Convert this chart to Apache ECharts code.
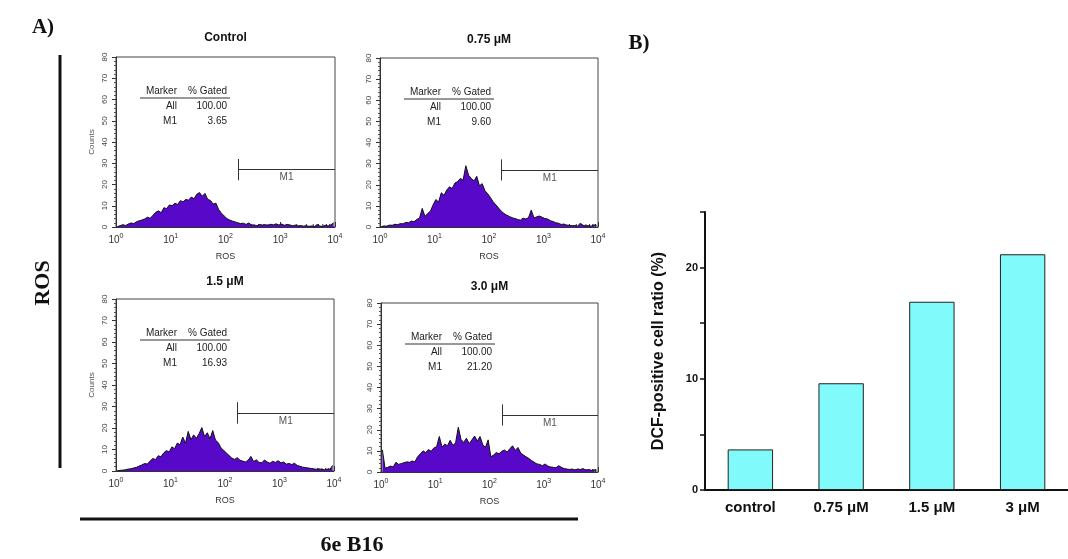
<!DOCTYPE html>
<html>
<head>
<meta charset="UTF-8">
<script src="https://cdn.jsdelivr.net/npm/echarts@6/dist/echarts.min.js"></script>
<style>
  html, body { margin: 0; padding: 0; background: #fff; }
  #main { width: 1068px; height: 559px; }
</style>
<title>6e B16 ROS</title>
</head>
<body>
<div id="main"></div>
<script type="text/javascript">
// ---- data ----
var binsPerDecade = 20;   // 80 bins over 10^0..10^4

var countsControl = [
  0.2, 0.6, 1.1, 0.7, 1.4, 1.9, 1.6, 2.5, 2.9, 3.3,
  3.8, 4.6, 4.1, 5.5, 6.9, 7.6, 6.7, 9.1, 8.6, 10.4,
  10.0, 11.2, 10.6, 12.4, 11.8, 13.0, 12.6, 14.1, 13.3, 15.4,
  16.2, 14.5, 15.8, 13.0, 12.5, 10.8, 11.2, 8.2, 6.5, 5.2,
  4.0, 3.3, 2.8, 2.4, 2.0, 1.6, 1.8, 1.2, 1.9, 0.9,
  1.0, 0.6, 1.2, 0.9, 1.1, 0.8, 1.3, 1.0, 1.5, 0.9,
  1.4, 0.8, 1.2, 1.0, 0.6, 0.9, 0.5, 0.7, 0.4, 0.6,
  0.3, 0.5, 0.2, 1.2, 0.4, 0.3, 0.8, 0.5, 1.0, 2.0
];
var counts075 = [
  0.2, 0.5, 0.4, 0.9, 0.8, 1.3, 1.1, 1.6, 1.5, 2.2,
  2.0, 2.8, 2.5, 3.6, 4.2, 8.8, 5.0, 6.4, 7.5, 10.5,
  13.0, 11.8, 16.2, 15.0, 17.5, 19.0, 18.2, 20.8, 21.5, 23.0,
  22.2, 29.0, 24.5, 23.0, 21.8, 24.0, 19.5, 20.5, 17.2, 15.8,
  14.0, 12.0, 10.5, 9.0, 7.5, 6.4, 5.6, 5.0, 4.4, 4.0,
  3.6, 3.2, 4.2, 3.8, 4.4, 8.0, 4.3, 4.8, 5.2, 4.6,
  4.0, 3.8, 3.0, 2.6, 2.0, 1.8, 1.2, 1.4, 0.9, 0.8,
  0.6, 0.7, 0.4, 1.8, 0.8, 0.5, 0.7, 0.4, 1.0, 0.8
];
var counts15 = [
  0.1, 0.3, 0.4, 0.6, 0.9, 1.0, 1.4, 1.7, 2.3, 2.8,
  3.5, 3.2, 4.6, 5.8, 5.3, 7.1, 6.6, 8.4, 9.5, 8.8,
  11.2, 10.4, 13.0, 12.2, 15.8, 12.9, 18.4, 14.5, 16.8, 15.2,
  17.4, 20.2, 16.0, 17.8, 15.0, 18.8, 14.4, 13.2, 10.8, 9.6,
  8.4, 7.2, 6.0, 5.4, 6.2, 5.0, 4.6, 4.2, 5.0, 6.8,
  4.4, 5.2, 4.0, 3.8, 5.1, 4.2, 3.6, 4.5, 4.0, 4.8,
  3.8, 4.2, 3.2, 3.5, 3.0, 3.6, 2.6, 2.2, 1.8, 1.6,
  1.4, 1.2, 1.0, 0.8, 1.0, 0.7, 0.6, 0.9, 0.8, 2.6
];
var counts30 = [
  10.5, 1.8, 2.2, 2.8, 2.4, 4.6, 3.6, 4.0, 4.4, 4.8,
  4.6, 5.2, 4.8, 7.2, 8.6, 10.0, 9.2, 10.6, 9.8, 11.4,
  12.0, 16.8, 11.8, 13.2, 12.4, 15.0, 12.6, 13.8, 21.2, 15.4,
  14.0, 16.0, 13.4, 15.2, 17.0, 14.6, 16.8, 13.0, 11.6, 15.2,
  7.2, 8.0, 9.2, 8.6, 9.8, 10.4, 9.4, 11.0, 12.4, 10.2,
  11.6, 9.0, 8.0, 7.2, 6.4, 5.4, 4.6, 3.8, 3.6, 3.0,
  3.8, 2.8, 2.4, 2.2, 2.0, 3.0, 2.2, 1.6, 1.4, 1.2,
  1.4, 1.0, 1.4, 1.2, 1.6, 0.9, 1.2, 0.8, 1.0, 0.9
];

var histCounts = [countsControl, counts075, counts15, counts30];
var histTitles = ['Control', '0.75 \u03bcM', '1.5 \u03bcM', '3.0 \u03bcM'];
var gatedAll = ['100.00', '100.00', '100.00', '100.00'];
var gatedM1 = ['3.65', '9.60', '16.93', '21.20'];
var m1Start = 2.23;       // log10 of the M1 gate channel
var m1Level = 27;

var barCategories = ['control', '0.75 \u03bcM', '1.5 \u03bcM', '3 \u03bcM'];
var barValues = [3.65, 9.6, 16.93, 21.2];

// log minor tick positions for the ROS axes (2..9 in each decade)
var logMinorTicks = [];
for (var n = 0; n < 4; n++) {
    for (var k = 2; k <= 9; k++) {
        logMinorTicks.push([n + Math.log10(k)]);
    }
}

// ---- layout ----
var histGrids = [
    {left: 116, top: 57, width: 219, height: 170},
    {left: 380, top: 58, width: 218, height: 169},
    {left: 116, top: 299, width: 218, height: 172},
    {left: 381, top: 303, width: 217, height: 169}
];
var titleY = [38, 40, 282, 287];

var sans = 'Liberation Sans';
var serif = 'Liberation Serif';

var dom = document.getElementById('main');
var myChart = echarts.init(dom);

var grids = [], xAxes = [], yAxes = [], series = [], graphics = [];

histCounts.forEach(function (counts, i) {
    var g = histGrids[i];
    grids.push({
        left: g.left, top: g.top, width: g.width, height: g.height,
        show: true, borderColor: '#444', borderWidth: 1
    });
    xAxes.push({
        gridIndex: i, type: 'value', min: 0, max: 4, interval: 1,
        name: 'ROS', nameLocation: 'middle', nameGap: 25,
        nameTextStyle: {fontFamily: sans, fontSize: 9, color: '#333'},
        axisLine: {lineStyle: {color: '#333', width: 1}},
        axisTick: {inside: true, length: 5, lineStyle: {color: '#333'}},
        splitLine: {show: false},
        axisLabel: {
            margin: 6, color: '#333',
            formatter: function (v) { return '{b|10}{s|' + v + '}'; },
            rich: {
                b: {fontFamily: sans, fontSize: 10, color: '#333'},
                s: {fontFamily: sans, fontSize: 7, color: '#333', padding: [0, 0, 7, 0]}
            }
        }
    });
    yAxes.push({
        gridIndex: i, type: 'value', min: 0, max: 80, interval: 10,
        name: i % 2 === 0 ? 'Counts' : '', nameLocation: 'middle', nameGap: 20, nameRotate: 90,
        nameTextStyle: {fontFamily: sans, fontSize: 8, color: '#555'},
        axisLine: {show: true, lineStyle: {color: '#333', width: 1}},
        axisTick: {show: true, length: 4, lineStyle: {color: '#333'}},
        minorTick: {show: true, splitNumber: 5, length: 2, lineStyle: {color: '#555'}},
        splitLine: {show: false},
        axisLabel: {rotate: 90, fontFamily: sans, fontSize: 8, margin: 7, color: '#444'}
    });
    series.push({
        type: 'line', xAxisIndex: i, yAxisIndex: i,
        data: counts.map(function (c, j) { return [(j + 0.5) / binsPerDecade, c]; }),
        symbol: 'none', showSymbol: false,
        lineStyle: {color: '#111', width: 1},
        areaStyle: {color: '#5708c8', opacity: 1},
        markLine: {
            silent: true, symbol: 'none', animation: false,
            lineStyle: {color: '#333', width: 1, type: 'solid'},
            label: {show: false},
            data: [
                [{coord: [m1Start, m1Level],
                  label: {show: true, formatter: 'M1', position: 'insideMiddleBottom',
                          fontFamily: sans, fontSize: 10, color: '#555', distance: 3}},
                 {coord: [4, m1Level]}],
                [{coord: [m1Start, m1Level - 5]}, {coord: [m1Start, m1Level + 5]}]
            ]
        }
    });
    series.push({
        type: 'custom', xAxisIndex: i, yAxisIndex: i, silent: true,
        data: logMinorTicks,
        renderItem: function (params, api) {
            var pt = api.coord([api.value(0), 0]);
            return {type: 'line', shape: {x1: pt[0], y1: pt[1], x2: pt[0], y2: pt[1] - 3},
                    style: {stroke: '#333', lineWidth: 1}};
        }
    });

    // title above each histogram
    graphics.push({type: 'text', x: g.left + g.width / 2, y: titleY[i],
        style: {text: histTitles[i], textAlign: 'center', textVerticalAlign: 'middle',
                font: 'bold 12px "' + sans + '"', fill: '#111'}});
    // marker table
    var tf = '10px "' + sans + '"';
    graphics.push(
        {type: 'text', x: g.left + 61, y: g.top + 34, style: {text: 'Marker', textAlign: 'right', textVerticalAlign: 'middle', font: tf, fill: '#222'}},
        {type: 'text', x: g.left + 111, y: g.top + 34, style: {text: '% Gated', textAlign: 'right', textVerticalAlign: 'middle', font: tf, fill: '#222'}},
        {type: 'line', shape: {x1: g.left + 24, y1: g.top + 41, x2: g.left + 114, y2: g.top + 41}, style: {stroke: '#333', lineWidth: 1}},
        {type: 'text', x: g.left + 61, y: g.top + 49, style: {text: 'All', textAlign: 'right', textVerticalAlign: 'middle', font: tf, fill: '#222'}},
        {type: 'text', x: g.left + 111, y: g.top + 49, style: {text: gatedAll[i], textAlign: 'right', textVerticalAlign: 'middle', font: tf, fill: '#222'}},
        {type: 'text', x: g.left + 61, y: g.top + 64, style: {text: 'M1', textAlign: 'right', textVerticalAlign: 'middle', font: tf, fill: '#222'}},
        {type: 'text', x: g.left + 111, y: g.top + 64, style: {text: gatedM1[i], textAlign: 'right', textVerticalAlign: 'middle', font: tf, fill: '#222'}}
    );
});

// panel B bar chart
grids.push({left: 705, top: 212, width: 369, height: 278});
xAxes.push({
    gridIndex: 4, type: 'category', data: barCategories,
    axisLine: {lineStyle: {color: '#111', width: 2}},
    axisTick: {alignWithLabel: true, length: 5, lineStyle: {color: '#111', width: 1.5}},
    axisLabel: {margin: 10, fontFamily: sans, fontSize: 15, fontWeight: 'bold', color: '#111'}
});
yAxes.push({
    gridIndex: 4, type: 'value', min: 0, max: 25, interval: 5,
    name: 'DCF-positive cell ratio (%)', nameLocation: 'middle', nameGap: 38,
    nameTextStyle: {fontFamily: sans, fontSize: 16, fontWeight: 'bold', color: '#111'},
    axisLine: {show: true, lineStyle: {color: '#111', width: 2}},
    axisTick: {show: true, length: 5, lineStyle: {color: '#111', width: 1.5}},
    splitLine: {show: false},
    axisLabel: {fontFamily: sans, fontSize: 11, fontWeight: 'bold', color: '#111', margin: 7,
                formatter: function (v) { return v % 10 === 0 ? v : ''; }}
});
series.push({
    type: 'bar', xAxisIndex: 4, yAxisIndex: 4, data: barValues, barWidth: '50%',
    itemStyle: {color: '#80fafa', borderColor: '#222', borderWidth: 1}
});

// figure annotations
graphics.push(
    {type: 'text', x: 43, y: 28, style: {text: 'A)', textAlign: 'center', textVerticalAlign: 'middle', font: 'bold 21px "' + serif + '"', fill: '#111'}},
    {type: 'text', x: 639, y: 44, style: {text: 'B)', textAlign: 'center', textVerticalAlign: 'middle', font: 'bold 21px "' + serif + '"', fill: '#111'}},
    {type: 'line', shape: {x1: 60, y1: 55, x2: 60, y2: 468}, style: {stroke: '#111', lineWidth: 3}},
    {type: 'text', x: 43, y: 283, rotation: Math.PI / 2, style: {text: 'ROS', textAlign: 'center', textVerticalAlign: 'middle', font: 'bold 22px "' + serif + '"', fill: '#111'}},
    {type: 'line', shape: {x1: 80, y1: 519, x2: 578, y2: 519}, style: {stroke: '#111', lineWidth: 3}},
    {type: 'text', x: 352, y: 545, style: {text: '6e B16', textAlign: 'center', textVerticalAlign: 'middle', font: 'bold 22px "' + serif + '"', fill: '#111'}}
);

var option = {
    animation: false,
    backgroundColor: '#fff',
    grid: grids,
    xAxis: xAxes,
    yAxis: yAxes,
    series: series,
    graphic: graphics
};

if (option && typeof option === 'object') {
    myChart.setOption(option, true);
}
</script>
</body>
</html>
